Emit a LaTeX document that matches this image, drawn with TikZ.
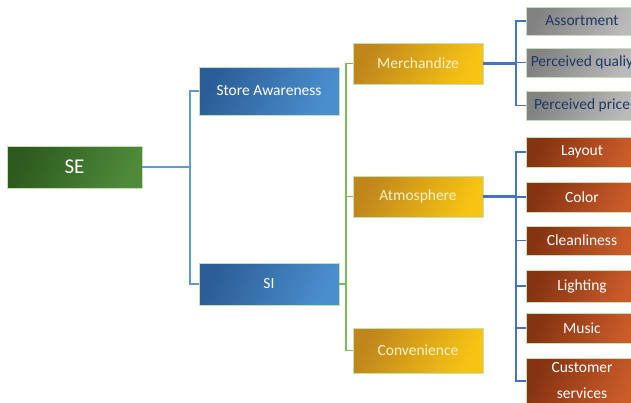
\documentclass[tikz,border=0pt]{standalone}
\usepackage{fontspec}
\setmainfont{Carlito}
\definecolor{edge}{HTML}{C5E0B4}
\definecolor{seL}{HTML}{2D5A1E}
\definecolor{seR}{HTML}{4E8A3A}
\definecolor{bL}{HTML}{2B5E97}
\definecolor{bR}{HTML}{4B8ECD}
\definecolor{oL}{HTML}{BF861C}
\definecolor{oR}{HTML}{F7C414}
\definecolor{rL}{HTML}{853311}
\definecolor{rR}{HTML}{CB5C2A}
\definecolor{gL}{HTML}{828282}
\definecolor{gR}{HTML}{BBBBBB}
\definecolor{navy}{HTML}{1F3864}
\definecolor{cream}{HTML}{FFF2CC}
\definecolor{lblue}{HTML}{5B9BD5}
\definecolor{lgreen}{HTML}{7DBB55}
\definecolor{dblue}{HTML}{4472C4}
\tikzset{
  base/.style={draw=edge, line width=0.6pt, inner sep=0pt, align=center},
  sebox/.style={base, left color=seL, right color=seR, shading angle=65, minimum width=135pt, minimum height=42pt, text=white, font=\fontsize{21}{24}\selectfont},
  bluebox/.style={base, left color=bL, right color=bR, shading angle=65, minimum width=140pt, text=white, font=\fontsize{15.5}{19}\selectfont},
  orbox/.style={base, left color=oL, right color=oR, shading angle=65, minimum width=130pt, text=cream, font=\fontsize{15.5}{19}\selectfont},
  greybox/.style={base, left color=gL, right color=gR, shading angle=65, minimum width=112pt, minimum height=29pt, text=navy, font=\fontsize{15.5}{19}\selectfont},
  redbox/.style={base, left color=rL, right color=rR, shading angle=65, minimum width=112pt, minimum height=30pt, text=white, font=\fontsize{15.5}{26}\selectfont},
  lbline/.style={draw=lblue, line width=1.6pt},
  lgline/.style={draw=lgreen, line width=1.4pt},
  dbstem/.style={draw=dblue, line width=2.6pt},
  dbline/.style={draw=dblue, line width=1.5pt}
}
\begin{document}
\begin{tikzpicture}[x=1pt,y=-1pt]
\useasboundingbox (0,0) rectangle (631,402);
\clip (0,0) rectangle (631,402);
\fill[white] (0,0) rectangle (631,402);
\coordinate (j1) at (190,167);
\coordinate (j2) at (346,284);
\coordinate (j3) at (516,63.5);
\coordinate (j4) at (516,196.5);
\node[sebox] (se) at (74.5,167) {SE};
\node[bluebox, minimum height=48pt] (aw) at (269,91) {Store Awareness};
\node[bluebox, minimum height=42pt] (si) at (269,284) {SI};
\node[orbox, minimum height=41pt] (me) at (418,63.5) {Merchandize};
\node[orbox, minimum height=41pt] (at) at (418,196.5) {Atmosphere};
\node[orbox, minimum height=45pt] (co) at (418,350.5) {Convenience};
\node[greybox, minimum height=28pt] (as) at (582,21) {Assortment};
\node[greybox] (pq) at (582,62.5) {Perceived qualiy};
\node[greybox] (pp) at (582,105.5) {Perceived price};
\node[redbox] (la) at (582,152) {Layout};
\node[redbox] (col) at (582,197) {Color};
\node[redbox, minimum height=29pt] (cle) at (582,240.5) {Cleanliness};
\node[redbox, minimum height=32pt] (li) at (582,286) {Lighting};
\node[redbox] (mu) at (582,328) {Music};
\node[redbox, minimum height=46pt] (cs) at (582,381) {Customer\\services};
\draw[lbline] (se.east) -- (j1);
\draw[lbline] (j1) |- (aw.west);
\draw[lbline] (j1) |- (si.west);
\draw[lgline] (si.east) -- (j2);
\draw[lgline] (j2) |- (me.west);
\draw[lgline] (j2) |- (at.west);
\draw[lgline] (j2) |- (co.west);
\draw[dbstem] (me.east) -- (j3);
\draw[dbline] (j3) |- (as.west);
\draw[dbline] (j3) |- (pq.west);
\draw[dbline] (j3) |- (pp.west);
\draw[dbstem] (at.east) -- (j4);
\draw[dbline] (j4) |- (la.west);
\draw[dbline] (j4) |- (col.west);
\draw[dbline] (j4) |- (cle.west);
\draw[dbline] (j4) |- (li.west);
\draw[dbline] (j4) |- (mu.west);
\draw[dbline] (j4) |- (cs.west);
\end{tikzpicture}
\end{document}
